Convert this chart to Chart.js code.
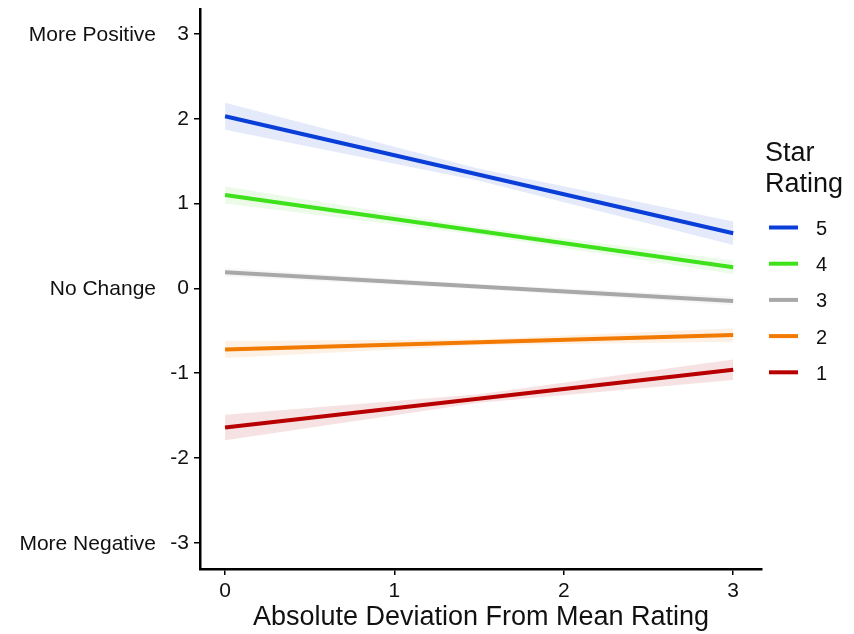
<!DOCTYPE html>
<html>
<head>
<meta charset="utf-8">
<script src="https://cdn.jsdelivr.net/npm/chart.js@4.4.1/dist/chart.umd.min.js"></script>
<style>
  html, body { margin: 0; padding: 0; background: #fff; }
  #wrap { width: 854px; height: 634px; position: relative; }
</style>
</head>
<body>
<div id="wrap"><canvas id="chart"></canvas></div>
<script>
// Data
const ratings = ['5', '4', '3', '2', '1'];
const colors = ['#0a3ed8', '#3ee21a', '#a8a8a8', '#f27a00', '#b80000'];
const bandColors = ['rgba(40,80,220,0.12)', 'rgba(60,220,30,0.10)', 'rgba(150,150,150,0.08)', 'rgba(240,120,0,0.10)', 'rgba(180,20,20,0.12)'];

const fitX = [0, 3];
const fitValues = [
    [2.03, 0.65],
    [1.10, 0.25],
    [0.19, -0.15],
    [-0.72, -0.55],
    [-1.64, -0.96]
];

const bandX = [0, 1.5, 3];
const bandUpper = [
    [2.19, 1.41, 0.79],
    [1.20, 0.72, 0.33],
    [0.24, 0.05, -0.10],
    [-0.62, -0.60, -0.47],
    [-1.49, -1.25, -0.84]
];
const bandLower = [
    [1.87, 1.27, 0.51],
    [1.00, 0.63, 0.17],
    [0.14, -0.01, -0.20],
    [-0.82, -0.67, -0.63],
    [-1.79, -1.35, -1.08]
];

const xTicks = [0, 1, 2, 3];
const yTicks = [-3, -2, -1, 0, 1, 2, 3];
const sideValues = [3, 0, -3];
const sideTexts = ['More Positive', 'No Change', 'More Negative'];

const FONT = '"Liberation Sans", Arial, sans-serif';

const toPts = (xs, ys) => xs.map((x, i) => ({ x: x, y: ys[i] }));

const datasets = [];
ratings.forEach((r, i) => {
    datasets.push({
        label: 'band-low-' + r,
        data: toPts(bandX, bandLower[i]),
        borderWidth: 0,
        pointRadius: 0,
        fill: false,
        order: 10
    });
    datasets.push({
        label: 'band-high-' + r,
        data: toPts(bandX, bandUpper[i]),
        borderWidth: 0,
        pointRadius: 0,
        backgroundColor: bandColors[i],
        fill: '-1',
        order: 10
    });
});
ratings.forEach((r, i) => {
    datasets.push({
        label: r,
        data: toPts(fitX, fitValues[i]),
        borderColor: colors[i],
        borderWidth: 4,
        pointRadius: 0,
        fill: false,
        order: 1
    });
});

// side descriptors + legend
const extrasPlugin = {
    id: 'extras',
    afterDraw(chart) {
        const ctx = chart.ctx;
        const yScale = chart.scales.y;
        ctx.save();
        ctx.fillStyle = '#111';
        ctx.font = '21px ' + FONT;
        ctx.textAlign = 'right';
        ctx.textBaseline = 'middle';
        sideValues.forEach((v, i) => {
            ctx.fillText(sideTexts[i], 156, yScale.getPixelForValue(v) + 1);
        });

        // legend
        ctx.textAlign = 'left';
        ctx.textBaseline = 'alphabetic';
        ctx.font = '27px ' + FONT;
        ctx.fillText('Star', 765, 161);
        ctx.fillText('Rating', 765, 192);
        ctx.font = '20px ' + FONT;
        ctx.textBaseline = 'middle';
        ratings.forEach((r, i) => {
            const y = 227.5 + i * 36.2;
            ctx.strokeStyle = colors[i];
            ctx.lineWidth = 4;
            ctx.beginPath();
            ctx.moveTo(769, y);
            ctx.lineTo(798, y);
            ctx.stroke();
            ctx.fillText(r, 816, y + 2);
        });
        ctx.restore();
    }
};

new Chart(document.getElementById('chart'), {
    type: 'line',
    data: { datasets: datasets },
    options: {
        responsive: true,
        maintainAspectRatio: false,
        animation: false,
        layout: { padding: { top: 9, right: 92, bottom: 0, left: 0 } },
        plugins: {
            legend: { display: false },
            tooltip: { enabled: false }
        },
        scales: {
            x: {
                type: 'linear',
                min: -0.148,
                max: 3.17,
                afterBuildTicks: s => { s.ticks = xTicks.map(v => ({ value: v })); },
                afterFit: s => { s.height = 65; s.paddingLeft = 0; s.paddingRight = 0; },
                grid: { display: true, drawOnChartArea: false, drawTicks: true, tickLength: 6, color: '#000', lineWidth: 1.5 },
                border: { display: true, color: '#000', width: 2.5 },
                ticks: { color: '#111', font: { family: FONT, size: 21 }, padding: 4 },
                title: { display: true, text: 'Absolute Deviation From Mean Rating', color: '#111', font: { family: FONT, size: 27 }, padding: { top: 0, bottom: 0 } }
            },
            y: {
                min: -3.31,
                max: 3.295,
                afterBuildTicks: s => { s.ticks = yTicks.map(v => ({ value: v })); },
                afterFit: s => { s.width = 200; s.paddingTop = 0; s.paddingBottom = 0; },
                grid: { display: true, drawOnChartArea: false, drawTicks: true, tickLength: 6, color: '#000', lineWidth: 1.5 },
                border: { display: true, color: '#000', width: 2.5 },
                ticks: { color: '#111', font: { family: FONT, size: 21 }, padding: 5 }
            }
        }
    },
    plugins: [extrasPlugin]
});
</script>
</body>
</html>
